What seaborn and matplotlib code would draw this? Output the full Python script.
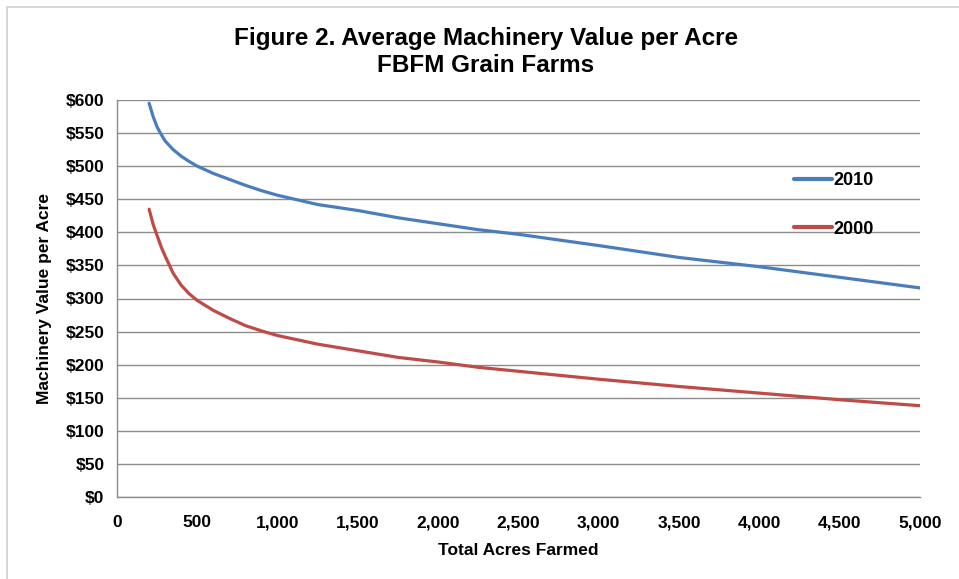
import matplotlib
matplotlib.use("Agg")
import matplotlib.pyplot as plt
import matplotlib.patches as mpatches
from matplotlib.ticker import FuncFormatter
import seaborn as sns
import pandas as pd

# ---- data ----
acres = [200, 225, 250, 275, 300, 350, 400, 450, 500, 600, 700, 800, 900, 1000,
         1250, 1500, 1750, 2000, 2250, 2500, 3000, 3500, 4000, 4500, 5000]
value_2010 = [595, 575, 559, 548, 538, 525, 515, 507, 500, 489, 480, 471, 463, 456,
              442, 433, 422, 413, 404, 397, 380, 362, 348, 332, 316]
value_2000 = [435, 412, 395, 378, 364, 338, 320, 307, 297, 282, 270, 259, 251, 244,
              231, 221, 211, 204, 196, 190, 178, 167, 157, 147, 138]
series_names = ["2010", "2000"]
y_ticks = list(range(0, 601, 50))
x_ticks = list(range(0, 5001, 500))

title_text = "Figure 2. Average Machinery Value per Acre\nFBFM Grain Farms"
xlabel_text = "Total Acres Farmed"
ylabel_text = "Machinery Value per Acre"

df = pd.DataFrame({
    "Acres": acres * 2,
    "Value": value_2010 + value_2000,
    "Year": [series_names[0]] * len(acres) + [series_names[1]] * len(acres),
})

sns.set_theme(style="white")
plt.rcParams["font.family"] = ["Liberation Sans", "DejaVu Sans"]
plt.rcParams["text.color"] = "black"
plt.rcParams["axes.labelcolor"] = "black"
plt.rcParams["xtick.labelcolor"] = "black"
plt.rcParams["ytick.labelcolor"] = "black"

fig = plt.figure(figsize=(9.59, 5.79), dpi=100)
ax = fig.add_axes([117 / 959, 1 - 497 / 579, (920 - 117) / 959, (497 - 100) / 579])

palette = {"2010": "#4A7EBB", "2000": "#BE4B48"}
sns.lineplot(data=df, x="Acres", y="Value", hue="Year", hue_order=series_names,
             palette=palette, linewidth=2.3, ax=ax, legend=True)
for ln in ax.get_lines():
    ln.set_solid_joinstyle("round")

ax.set_xlim(0, 5000)
ax.set_ylim(0, 600)
ax.set_xticks(x_ticks)
ax.set_yticks(y_ticks)
ax.xaxis.set_major_formatter(FuncFormatter(lambda v, p: f"{int(v):,}"))
ax.yaxis.set_major_formatter(FuncFormatter(lambda v, p: f"${int(v)}"))

grid_c = "#8C8C8C"
ax.yaxis.grid(True, color=grid_c, linewidth=1.0)
ax.xaxis.grid(False)
ax.set_axisbelow(True)
for s in ["top", "right"]:
    ax.spines[s].set_visible(False)
for s in ["left", "bottom"]:
    ax.spines[s].set_color(grid_c)
    ax.spines[s].set_linewidth(1.0)
ax.tick_params(axis="both", which="major", direction="out", length=5, width=1,
               color=grid_c, labelcolor="black", labelsize=12.5)
ax.tick_params(axis="x", pad=8)
ax.tick_params(axis="y", pad=4)
for lab in ax.get_xticklabels() + ax.get_yticklabels():
    lab.set_fontweight("bold")

ax.set_xlabel(xlabel_text, fontsize=12.5, fontweight="bold", labelpad=9,
              color="black")
ax.set_ylabel(ylabel_text, fontsize=12.5, fontweight="bold", labelpad=10,
              color="black")

fig.text(486 / 959, 1 - 52 / 579, title_text, ha="center", va="center",
         fontsize=17.5, fontweight="bold", linespacing=1.25, color="black")

leg = ax.legend(loc="upper left", bbox_to_anchor=(794 / 959, 1 - 172 / 579),
                bbox_transform=fig.transFigure, frameon=False, fontsize=13,
                handlelength=2.1, handletextpad=0.1, labelspacing=1.75,
                borderpad=0, borderaxespad=0)
for t in leg.get_texts():
    t.set_fontweight("bold")
    t.set_color("black")
for h in leg.get_lines():
    h.set_linewidth(3)

# chart-area border (left and top visible)
fig.patches.append(mpatches.Rectangle((7 / 959, -0.1), 1.2, 1 - 7 / 579 + 0.1,
                                      transform=fig.transFigure, fill=False,
                                      edgecolor="#D0D0D0", linewidth=1.2))

fig.savefig("out.png", dpi=100)
